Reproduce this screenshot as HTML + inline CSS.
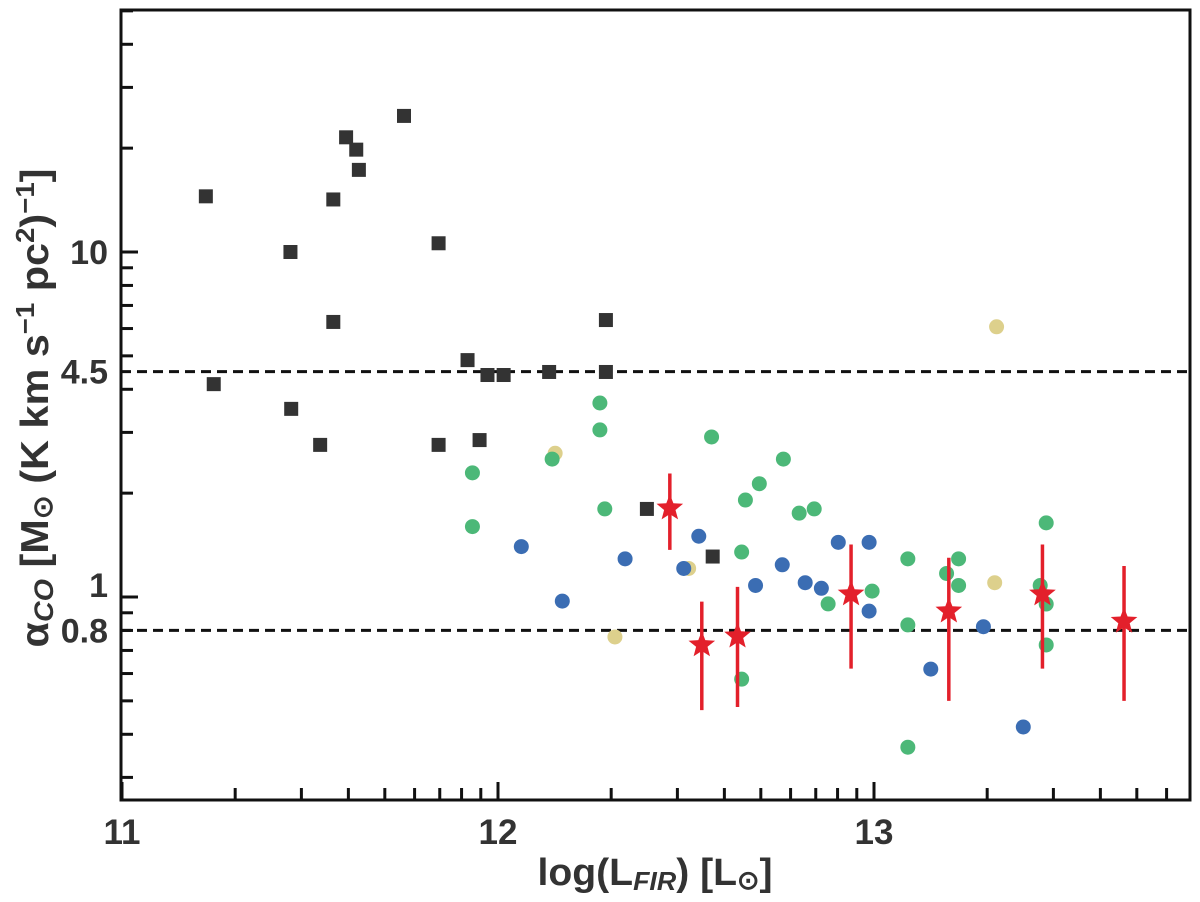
<!DOCTYPE html>
<html><head><meta charset="utf-8"><style>
html,body{margin:0;padding:0;background:#fff;}
svg{display:block;font-family:"Liberation Sans",sans-serif;}
</style></head><body>
<svg id="chart" width="1200" height="902" viewBox="0 0 1200 902" xmlns="http://www.w3.org/2000/svg">
<g id="marks"></g>
<g id="axes"></g>
<text x="655" y="885" text-anchor="middle" font-size="38" font-weight="bold" fill="#333" textLength="235" lengthAdjust="spacingAndGlyphs">log(L<tspan font-size="26" font-style="italic" dy="5">FIR</tspan><tspan dy="-5">) [L</tspan><tspan font-size="26" dy="4">⊙</tspan><tspan dy="-4">]</tspan></text>
<text transform="translate(48,408) rotate(-90)" text-anchor="middle" font-size="39" font-weight="bold" fill="#333" textLength="479" lengthAdjust="spacingAndGlyphs">α<tspan font-size="27" font-style="italic" dy="5">CO</tspan><tspan dy="-5"> [M</tspan><tspan font-size="27" dy="4">⊙</tspan><tspan dy="-4"> (K km s</tspan><tspan font-size="26" dy="-14">−1</tspan><tspan dy="14"> pc</tspan><tspan font-size="26" dy="-14">2</tspan><tspan dy="14">)</tspan><tspan font-size="26" dy="-14">−1</tspan><tspan dy="14">]</tspan></text>
</svg>
<script>
const squareX=[11.223,11.244,11.448,11.450,11.527,11.562,11.562,11.596,11.623,11.630,11.750,11.842,11.842,11.919,11.951,11.972,12.015,12.136,12.287,12.287,12.396,12.571];
const squareY=[14.5,4.14,10,3.51,2.76,14.2,6.27,21.5,19.8,17.3,24.8,10.6,2.76,4.86,2.85,4.40,4.40,4.49,6.35,4.49,1.80,1.31];
const greenX=[11.932,11.932,12.144,12.271,12.271,12.284,12.568,12.648,12.648,12.658,12.695,12.759,12.801,12.841,12.878,12.995,13.090,13.090,13.090,13.193,13.225,13.225,13.442,13.458,13.458,13.458];
const greenY=[2.29,1.60,2.51,3.65,3.05,1.80,2.91,1.35,0.578,1.91,2.13,2.51,1.75,1.80,0.955,1.04,1.29,0.83,0.367,1.17,1.29,1.08,1.08,0.954,1.64,0.726];
const blueX=[12.062,12.171,12.338,12.494,12.534,12.685,12.756,12.817,12.860,12.905,12.987,12.987,13.151,13.291,13.397];
const blueY=[1.40,0.973,1.29,1.21,1.50,1.08,1.24,1.10,1.06,1.44,1.44,0.91,0.618,0.82,0.42];
const yellowX=[12.152,12.311,12.507,13.326,13.321];
const yellowY=[2.61,0.766,1.21,6.07,1.10];
const starX=[12.457,12.542,12.637,12.939,13.199,13.448,13.665];
const starY=[1.81,0.726,0.77,1.02,0.91,1.02,0.85];
const starHi=[2.28,0.97,1.07,1.42,1.30,1.42,1.23];
const starLo=[1.37,0.47,0.48,0.62,0.50,0.62,0.50];
const refLines=[4.5,0.8];
const xTicks=[11,12,13];
const yTickLabels=[10,4.5,1,0.8];

const NS="http://www.w3.org/2000/svg";
const L=121,R=1190,T=10,B=800;
function sx(v){return 122+376*(v-11);}
function sy(v){return 252-345*(Math.log10(v)-1);}
const marks=document.getElementById('marks'),axes=document.getElementById('axes');
function mk(tag,attrs,parent){const e=document.createElementNS(NS,tag);for(const k in attrs)e.setAttribute(k,attrs[k]);parent.appendChild(e);return e;}

refLines.forEach(v=>{
  const e=mk('line',{x1:L,x2:R,y1:sy(v),y2:sy(v),stroke:'#111','stroke-width':3,'stroke-dasharray':'10,6'},marks);
  
  
});
squareX.forEach((x,i)=>{
  const e=mk('rect',{x:sx(x)-7,y:sy(squareY[i])-7,width:14,height:14,fill:'#333'},marks);
  
  
});
function circles(xs,ys,col,name){xs.forEach((x,i)=>{
  const e=mk('circle',{cx:sx(x),cy:sy(ys[i]),r:7.5,fill:col},marks);
  
  
});}
circles(yellowX,yellowY,'#ddd08c','yellow-point');
circles(greenX,greenY,'#4cb878','green-point');
circles(blueX,blueY,'#3b6db3','blue-point');
starX.forEach((x,i)=>{
  const cx=sx(x),cy=sy(starY[i]);
  const eb=mk('line',{x1:cx,x2:cx,y1:sy(starHi[i]),y2:sy(starLo[i]),stroke:'#e3202b','stroke-width':3.5},marks);
  
  
  let p=[];for(let k=0;k<10;k++){const r=k%2?6:14;const a=-Math.PI/2+k*Math.PI/5;p.push((cx+r*Math.cos(a)).toFixed(1)+','+(cy+r*Math.sin(a)).toFixed(1));}
  const s=mk('polygon',{points:p.join(' '),fill:'#e3202b'},marks);
  
  
});
const fr=mk('rect',{x:L,y:T,width:R-L,height:B-T,fill:'none',stroke:'#111','stroke-width':3},axes);


for(let d=-1;d<=1;d++)for(let k=1;k<10;k++){const v=k*Math.pow(10,d);const y=sy(v);if(y<T-1||y>B)continue;
  const e=mk('line',{x1:L,x2:L+(k===1?17:12),y1:y,y2:y,stroke:'#111','stroke-width':3},axes);
  
  }
yTickLabels.forEach(v=>{
  const t=mk('text',{x:108,y:sy(v)+(v===1?0:12),'text-anchor':'end','font-size':34,'font-weight':'bold',fill:'#333'},axes);
  t.textContent=String(v);
  
  
});
for(let d=11;d<=13;d++)for(let k=1;k<10;k++){const v=d+Math.log10(k);const x=sx(v);if(x>R)continue;
  const e=mk('line',{x1:x,x2:x,y1:B,y2:B-(k===1?18:12),stroke:'#111','stroke-width':3},axes);
  
  }
xTicks.forEach(v=>{
  const t=mk('text',{x:sx(v),y:844,'text-anchor':'middle','font-size':35,'font-weight':'bold',fill:'#333'},axes);
  t.textContent=String(v);
  
  
});
</script>
</body></html>
